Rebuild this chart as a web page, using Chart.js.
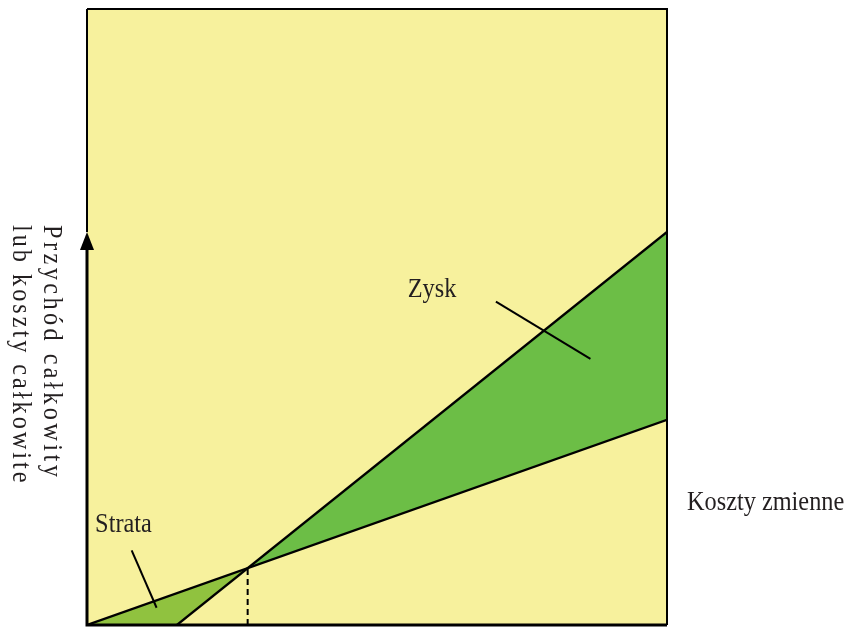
<!DOCTYPE html>
<html><head><meta charset="utf-8">
<script src="https://cdn.jsdelivr.net/npm/chart.js@4"></script>
<style>html,body{margin:0;padding:0;background:#fff}</style>
</head>
<body>
<canvas id="c" width="848" height="627"></canvas>
<script>
// ---- data (chart units: x 0..100, y 0..100) ----
const costLine = [[0, 0], [100, 33.3]];          // koszty całkowite
const revenueLine = [[15.5, 0], [100, 63.8]];    // przychód całkowity
const breakEven = [27.7, 9.2];                   // próg rentowności
const strataPointer = [[7.7, 12.1], [12.0, 2.8]];
const zyskPointer = [[70.5, 52.5], [86.8, 43.2]];
const labelStrata = ["Strata", 1.4, 15.1];
const labelZysk = ["Zysk", 55.3, 53.2];
const xAxisTitle = "Koszty zmienne";
const yAxisTitle = ["Przychód całkowity", "lub koszty całkowite"];

const P = a => ({x: a[0], y: a[1]});
const YELLOW = '#f7f19d', GREEN_LOSS = '#90c23f', GREEN_PROFIT = '#6cbe46', INK = '#231f20';

const base = {pointRadius: 0, tension: 0, borderWidth: 0, borderColor: 'rgba(0,0,0,0)', fill: false};

const datasets = [
  // 0: profit upper (revenue after break-even)
  {...base, data: [P(breakEven), P(revenueLine[1])], fill: {target: 1}, backgroundColor: GREEN_PROFIT, order: 10},
  // 1: profit lower (cost after break-even)
  {...base, data: [P(breakEven), P(costLine[1])], order: 11},
  // 2: loss upper (cost before break-even)
  {...base, data: [P(costLine[0]), P(breakEven)], fill: {target: 3}, backgroundColor: GREEN_LOSS, order: 10},
  // 3: loss lower (axis then revenue)
  {...base, data: [P(costLine[0]), P(revenueLine[0]), P(breakEven)], order: 11},
  // 4: cost line
  {...base, data: costLine.map(P), borderColor: '#000', borderWidth: 2.3, order: 1},
  // 5: revenue line
  {...base, data: revenueLine.map(P), borderColor: '#000', borderWidth: 2.3, order: 1},
  // 6: dashed break-even drop
  {...base, data: [{x: breakEven[0], y: 0}, P(breakEven)], borderColor: '#000', borderWidth: 2, borderDash: [6, 4], order: 1},
  // 7,8: label pointers
  {...base, data: strataPointer.map(P), borderColor: '#000', borderWidth: 2, order: 1},
  {...base, data: zyskPointer.map(P), borderColor: '#000', borderWidth: 2, order: 1}
];

const FONT = '27px "Liberation Serif", "Times New Roman", serif';
function drawText(ctx, s, x, y, rot, spacing) {
  ctx.save();
  ctx.translate(x, y);
  if (rot) ctx.rotate(rot);
  ctx.scale(0.9, 1);
  ctx.font = FONT;
  ctx.fillStyle = INK;
  ctx.textAlign = 'left';
  ctx.textBaseline = 'alphabetic';
  if ('letterSpacing' in ctx) ctx.letterSpacing = (spacing || 0) + 'px';
  ctx.fillText(s, 0, 0);
  ctx.restore();
}

const decor = {
  id: 'decor',
  beforeDatasetsDraw(chart) {
    const {ctx, chartArea: a} = chart;
    ctx.save();
    ctx.fillStyle = YELLOW;
    ctx.fillRect(a.left, a.top, a.right - a.left, a.bottom - a.top);
    ctx.restore();
  },
  afterDatasetsDraw(chart) {
    const {ctx, chartArea: a, scales: {x, y}} = chart;
    ctx.save();
    // frame
    ctx.strokeStyle = '#000';
    ctx.lineWidth = 2;
    ctx.beginPath();
    ctx.moveTo(a.left, a.top); ctx.lineTo(a.right, a.top); ctx.lineTo(a.right, a.bottom);
    ctx.stroke();
    // value axis with arrow (arrow tip at revenue end height)
    const tipY = y.getPixelForValue(revenueLine[1][1]);
    ctx.beginPath();
    ctx.moveTo(a.left, a.top); ctx.lineTo(a.left, tipY);
    ctx.stroke();
    ctx.lineWidth = 3;
    ctx.beginPath();
    ctx.moveTo(a.left, tipY + 16); ctx.lineTo(a.left, a.bottom);
    ctx.lineTo(a.right, a.bottom);
    ctx.stroke();
    ctx.fillStyle = '#000';
    ctx.beginPath();
    ctx.moveTo(a.left, tipY); ctx.lineTo(a.left - 7, tipY + 18); ctx.lineTo(a.left + 7, tipY + 18);
    ctx.closePath(); ctx.fill();
    ctx.restore();

    drawText(ctx, labelStrata[0], x.getPixelForValue(labelStrata[1]), y.getPixelForValue(labelStrata[2]));
    drawText(ctx, labelZysk[0], x.getPixelForValue(labelZysk[1]), y.getPixelForValue(labelZysk[2]));
    drawText(ctx, xAxisTitle, a.right + 20, y.getPixelForValue(18.7));
    drawText(ctx, yAxisTitle[0], a.left - 43, 225, Math.PI / 2, 3.8);
    drawText(ctx, yAxisTitle[1], a.left - 74, 225, Math.PI / 2, 3.3);
  }
};

new Chart(document.getElementById('c'), {
  type: 'line',
  data: {datasets},
  options: {
    responsive: false,
    animation: false,
    events: [],
    layout: {padding: {left: 87, right: 181, top: 9, bottom: 2}},
    scales: {
      x: {type: 'linear', min: 0, max: 100, display: false},
      y: {type: 'linear', min: 0, max: 100, display: false}
    },
    plugins: {legend: {display: false}, tooltip: {enabled: false}}
  },
  plugins: [decor]
});
</script>
</body></html>
